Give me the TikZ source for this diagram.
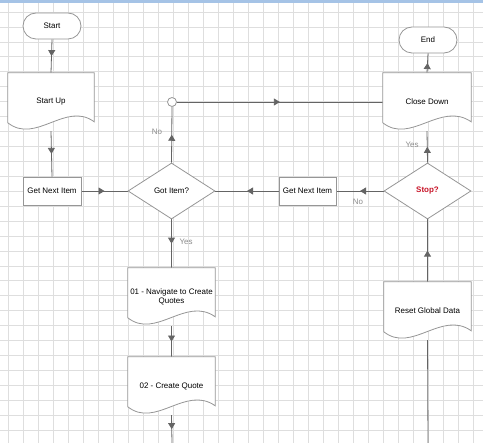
\documentclass[tikz,border=0pt]{standalone}
\usepackage{fontspec}
\setmainfont{Liberation Sans}
\usetikzlibrary{arrows.meta,decorations.markings,calc,shapes.geometric}
\pgfdeclarelayer{gridlayer}
\pgfdeclarelayer{linelayer}
\pgfdeclarelayer{shapelayer}
\pgfsetlayers{gridlayer,linelayer,shapelayer,main}
\definecolor{gridc}{RGB}{222,222,222}
\definecolor{shapec}{RGB}{150,150,150}
\definecolor{linec}{RGB}{100,100,100}
\definecolor{labc}{RGB}{140,140,140}
\definecolor{stopred}{RGB}{200,20,40}
\definecolor{barc}{RGB}{165,195,230}
\newcommand\docoutline[1]{%
  \begin{pgfonlayer}{shapelayer}
  \draw[shapeline,fill=white] (#1.north west) -- (#1.north east) -- ($(#1.north east)+(0,49)$)
    .. controls ($(#1.north west)+(58,28)$) and ($(#1.north west)+(28,72)$) .. ($(#1.north west)+(0,50)$) -- cycle;
  \end{pgfonlayer}}
\tikzset{
  every node/.style={font=\fontsize{8}{9.5}\selectfont},
  shapeline/.style={draw=shapec, line width=0.8bp},
  term/.style={shapeline, fill=white, rounded corners=13bp, minimum width=58bp, minimum height=26bp, inner sep=0pt},
  procbox/.style={shapeline, fill=white, minimum width=58bp, minimum height=28bp, inner sep=0pt},
  docnode/.style={minimum width=87bp, minimum height=58bp, inner sep=0pt, align=center},
  decide/.style={diamond, shapeline, fill=white, minimum width=87bp, minimum height=56bp, inner sep=0pt},
  junc/.style={circle, shapeline, fill=white, minimum size=9bp, inner sep=0pt},
  conn/.style={draw=linec, line width=0.8bp},
  midarrow/.style={postaction={decorate}, decoration={markings, mark=at position #1 with {\arrow{Triangle[width=7bp,length=6bp]}}}},
  midarrow/.default=0.5,
  lab/.style={text=labc, inner sep=0pt},
  gridline/.style={draw=gridc, line width=0.6bp}
}
\begin{document}
\begin{tikzpicture}[x=1bp,y=-1bp]
\useasboundingbox (0,0) rectangle (483,443);
\begin{pgfonlayer}{gridlayer}
  \fill[white] (0,0) rectangle (483,443);
  \foreach \x in {8,23,...,473} {\draw[gridline] (\x,0) -- (\x,443);}
  \foreach \i in {0,...,29} {\draw[gridline] (0,{12+\i*14.93}) -- (483,{12+\i*14.93});}
  \fill[barc] (0,0) rectangle (483,3);
\end{pgfonlayer}

% nodes
\node[term] (start) at (52,26) {Start};
\node[docnode, minimum width=86bp] (su) at (51,102) {Start Up};
\docoutline{su}
\node[procbox] (gni1) at (52,191) {Get Next Item};
\node[decide] (got) at (171.5,191) {Got Item?};
\node[junc] (jn) at (172,102) {};
\node[docnode, minimum width=88bp] (cd) at (427,102) {Close Down};
\docoutline{cd}
\node[term] (end) at (428,40) {End};
\node[decide] (stop) at (427.5,191) {\textcolor{stopred}{\bfseries Stop?}};
\node[procbox, minimum width=57bp] (gni2) at (307.5,191) {Get Next Item};
\node[docnode] (nav) at (171.5,297) {01 - Navigate to Create\\Quotes};
\docoutline{nav}
\node[docnode] (cq) at (171.5,386) {02 - Create Quote};
\docoutline{cq}
\node[docnode] (rgd) at (427.5,311) {Reset Global Data};
\docoutline{rgd}
\coordinate (bot1) at (172,443);
\coordinate (bot2) at (428,443);

% labels
\node[lab] (lno1) at (157,132) {No};
\node[lab] (lyes1) at (412,145) {Yes};
\node[lab] (lno2) at (358,202) {No};
\node[lab] (lyes2) at (186,242) {Yes};

% connectors
\begin{pgfonlayer}{linelayer}
  \draw[conn, midarrow] (start.south) -- (su.north);
  \draw[conn, midarrow] (su.south) -- (gni1.north);
  \draw[conn, midarrow] (gni1.east) -- (got.west);
  \draw[conn, midarrow] (got.north) -- (jn.south);
  \draw[conn, midarrow] (jn.east) -- (cd.west);
  \draw[conn, midarrow] (cd.north) -- (end.south);
  \draw[conn, midarrow] (stop.north) -- (cd.south);
  \draw[conn, midarrow] (stop.west) -- (gni2.east);
  \draw[conn, midarrow] (gni2.west) -- (got.east);
  \draw[conn, midarrow] (got.south) -- (nav.north);
  \draw[conn, midarrow] (nav.south) -- (cq.north);
  \draw[conn, midarrow] (cq.south) -- (bot1);
  \draw[conn] (bot2) -- (rgd.south);
  \draw[conn, midarrow] (rgd.north) -- (stop.south);
\end{pgfonlayer}
\end{tikzpicture}
\end{document}
